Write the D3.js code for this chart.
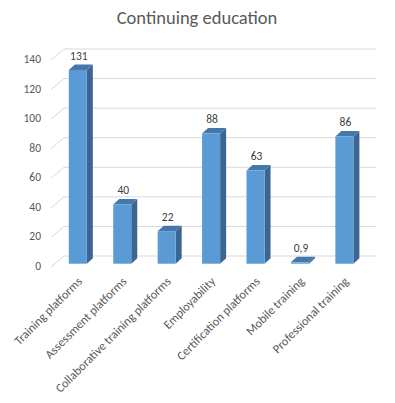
<!DOCTYPE html>
<html>
<head>
<meta charset="utf-8">
<script src="https://cdn.jsdelivr.net/npm/d3@7"></script>
<style>
  body { margin: 0; background: #fff; }
  text { font-family: Carlito, Calibri, Lato, sans-serif; }
</style>
</head>
<body>
<div id="chart"></div>
<script>
const categories = ["Training platforms", "Assessment platforms", "Collaborative training platforms",
  "Employability", "Certification platforms", "Mobile training", "Professional training"];
const values = [131, 40, 22, 88, 63, 0.9, 86];
const valueLabels = ["131", "40", "22", "88", "63", "0,9", "86"];
const yTicks = [0, 20, 40, 60, 80, 100, 120, 140];

const width = 395, height = 403;
// depth of the 3d box
const depthX = 12, depthY = -11;
const barFront = 0.3, barBack = 0.8;

const svg = d3.select("#chart").append("svg")
  .attr("width", width)
  .attr("height", height);

// front plane scales
const x = d3.scaleBand().domain(categories).range([52, 363]).paddingInner(0.594).paddingOuter(0.297);
const y = d3.scaleLinear().domain([0, 140]).range([267, 60]);

// title
svg.append("text")
  .attr("x", 197).attr("y", 24)
  .attr("text-anchor", "middle")
  .attr("font-size", 18.5)
  .attr("fill", "#595959")
  .text("Continuing education");

// gridlines: back wall + side wall diagonal
const grid = svg.append("g").attr("stroke", "#d9d9d9").attr("stroke-width", 1).attr("fill", "none");
yTicks.forEach(t => {
  const yb = y(t) + depthY;
  grid.append("line")
    .attr("x1", 52 + depthX).attr("x2", 376)
    .attr("y1", yb).attr("y2", yb);
  grid.append("line")
    .attr("x1", 51).attr("y1", y(t))
    .attr("x2", 52 + depthX).attr("y2", yb);
});

// y tick labels
svg.append("g").selectAll("text")
  .data(yTicks).enter().append("text")
  .attr("x", 41).attr("y", d => y(d) - 1)
  .attr("dy", "0.35em")
  .attr("text-anchor", "end")
  .attr("font-size", 11.5)
  .attr("fill", "#595959")
  .text(d => d);

// bars
const bars = svg.append("g").selectAll("g")
  .data(categories).enter().append("g");

const fx = barFront * depthX, fy = barFront * depthY;
const bdx = (barBack - barFront) * depthX, bdy = (barBack - barFront) * depthY;
const bw = x.bandwidth();

bars.each(function(c, i) {
  const g = d3.select(this);
  const x0 = x(c) + fx, x1 = x0 + bw;
  const yTop = y(values[i]) + fy, yBot = y(0) + fy;
  // side face
  g.append("path")
    .attr("d", `M${x1},${yBot}L${x1 + bdx},${yBot + bdy}L${x1 + bdx},${yTop + bdy}L${x1},${yTop}Z`)
    .attr("fill", "#3b6691");
  // top face
  g.append("path")
    .attr("d", `M${x0},${yTop}L${x0 + bdx},${yTop + bdy}L${x1 + bdx},${yTop + bdy}L${x1},${yTop}Z`)
    .attr("fill", "#4577ab");
  // front face
  g.append("rect")
    .attr("x", x0).attr("y", yTop)
    .attr("width", bw).attr("height", Math.max(0, yBot - yTop))
    .attr("fill", "#5b9bd5");
  // value label
  g.append("text")
    .attr("x", x0 + bw / 2 + 1)
    .attr("y", yTop + bdy - 9)
    .attr("dy", "0.35em")
    .attr("text-anchor", "middle")
    .attr("font-size", 11.5)
    .attr("fill", "#404040")
    .text(valueLabels[i]);
});

// category labels
svg.append("g").selectAll("text")
  .data(categories).enter().append("text")
  .attr("transform", d => `translate(${x(d) + fx + bw / 2 + 2},${279}) rotate(-45)`)
  .attr("text-anchor", "end")
  .attr("dy", "0.35em")
  .attr("font-size", 12.3)
  .attr("fill", "#595959")
  .text(d => d);
</script>
</body>
</html>
